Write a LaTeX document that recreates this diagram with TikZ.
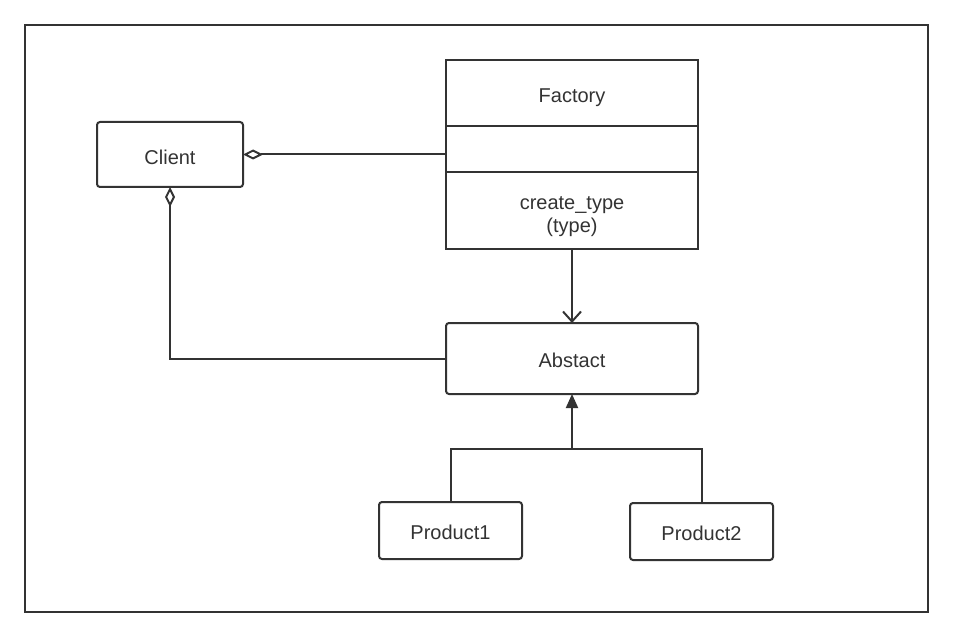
\documentclass[tikz,border=0pt]{standalone}
\usepackage{fontspec}
\setmainfont{Liberation Sans}
\usetikzlibrary{arrows.meta,positioning,calc}
\definecolor{ink}{HTML}{333333}
\newcommand{\lowertext}[2]{\raisebox{-#1}[\height][\depth]{#2}}
\tikzset{
	umlbox/.style={draw=ink, line width=2pt, rounded corners=3pt, text=ink, inner sep=0pt, outer sep=0pt, font=\fontsize{20}{23}\selectfont},
	umlpart/.style={draw=ink, line width=2pt, text=ink, inner sep=0pt, outer sep=0pt, minimum width=252pt, font=\fontsize{20}{23}\selectfont},
	link/.style={draw=ink, line width=2pt},
	aggr/.style={link, {Diamond[open, length=20pt, width=10pt]}-},
	assoc/.style={link, -{Straight Barb[length=10pt, width=18pt, line width=2pt]}},
	inherit/.style={link, -{Triangle[length=14pt, width=12pt, fill=ink]}}
}
\begin{document}
\begin{tikzpicture}[x=1pt, y=-1pt]
			%%%%% START %%%%%
			
			\useasboundingbox (0, 0) rectangle (953, 639);
			\draw[ink, line width=2pt] (25, 25) rectangle (928, 612);
			
			\node[umlbox, minimum width=146pt, minimum height=65pt] (client) at (170, 154.5) {\lowertext{3pt}{Client}};
			
			\node[umlpart, minimum height=66pt] (fname) at (572, 93) {\lowertext{5pt}{Factory}};
			\node[umlpart, minimum height=46pt, below=0pt of fname] (fattr) {};
			\node[umlpart, minimum height=77pt, below=0pt of fattr] (fops)
				{\lowertext{6pt}{\begin{tabular}{@{}c@{}}create\_type\\(type)\end{tabular}}};
			
			\node[umlbox, minimum width=252pt, minimum height=71pt] (abstact) at (572, 358.5) {\lowertext{2pt}{Abstact}};
			
			\node[umlbox, minimum width=143pt, minimum height=57pt] (product1) at (450.5, 530.5) {\lowertext{2pt}{Product1}};
			\node[umlbox, minimum width=143pt, minimum height=57pt] (product2) at (701.5, 531.5) {\lowertext{2pt}{Product2}};
			
			\coordinate (join) at ($(abstact.south)+(0, 55)$);
			
			\draw[aggr] (client.east) -- (client.east -| fattr.west);
			\draw[aggr] (client.south) |- (abstact.west);
			\draw[assoc] (fops.south) -- (abstact.north);
			\draw[link] (product1.north) |- (join) -| (product2.north);
			\draw[inherit] (join) -- (abstact.south);
			
			%%%%% END %%%%%
\end{tikzpicture}
\end{document}
